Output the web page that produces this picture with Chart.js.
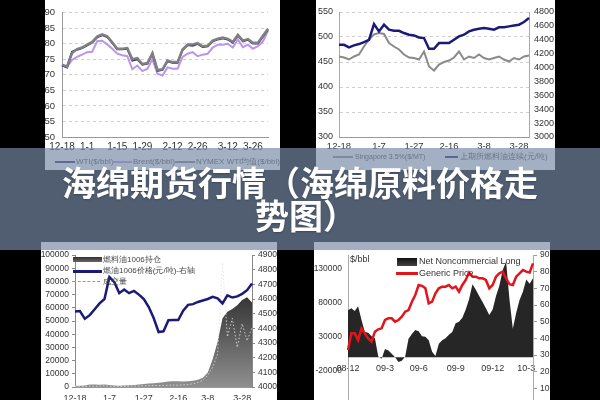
<!DOCTYPE html>
<html>
<head>
<meta charset="utf-8">
<script src="https://cdn.jsdelivr.net/npm/chart.js@4.4.1/dist/chart.umd.min.js"></script>
<style>
  html, body { margin: 0; padding: 0; width: 600px; height: 400px; overflow: hidden; background: #000; }
  body { position: relative; font-family: "Liberation Sans", Arial, sans-serif; }
  .panel { position: absolute; background: #fff; overflow: hidden; }
  .panel canvas { position: absolute; left: 0; top: 0; }
  .lg { position: absolute; white-space: nowrap; color: #444; line-height: 1; }
  .mk { position: absolute; }
  #banner { position: absolute; left: 0; top: 148px; width: 600px; height: 102px; background: rgba(120, 138, 168, 0.68); }
  #title { position: absolute; left: 50px; top: 165px; width: 500px; text-align: center; color: #fff;
           font: bold 34px/33px "Noto Sans CJK SC", sans-serif; text-shadow: 0 1px 2px rgba(0,0,0,0.25); }
  #title span { position: relative; left: 6px; }
</style>
</head>
<body>

<div class="panel" style="left:45px;top:0;width:235px;height:170px">
  <canvas id="c1" width="235" height="170"></canvas>
  <div class="mk" style="left:10px;top:161px;width:20px;height:2px;background:#2a2570"></div>
  <div class="lg" style="left:31px;top:158px;font-size:8px">WTI($/bbl)</div>
  <div class="mk" style="left:67px;top:161px;width:20px;height:2px;background:#b995ee"></div>
  <div class="lg" style="left:88px;top:158px;font-size:8px">Brent($/bbl)</div>
  <div class="mk" style="left:130px;top:161px;width:20px;height:2px;background:#808080"></div>
  <div class="lg" style="left:151px;top:158px;font-size:8px">NYMEX WTI均值($/bbl)</div>
</div>

<div class="panel" style="left:316px;top:0;width:239px;height:170px">
  <canvas id="c2" width="239" height="170"></canvas>
  <div class="mk" style="left:17px;top:156px;width:20px;height:2px;background:#8a8a8a"></div>
  <div class="lg" style="left:39px;top:153px;font-size:7px">Singapore 3.5%($/MT)</div>
  <div class="mk" style="left:129px;top:156px;width:13px;height:2px;background:#1c1a78"></div>
  <div class="lg" style="left:144px;top:153px;font-size:8px">上期所燃料油连续(元/吨)</div>
</div>

<div class="panel" style="left:41px;top:242px;width:236px;height:175px">
  <canvas id="c3" width="236" height="175"></canvas>
  <div class="mk" style="left:32px;top:15px;width:29px;height:5px;background:linear-gradient(#333,#666)"></div>
  <div class="lg" style="left:62px;top:14px;font-size:8px">燃料油1006持仓</div>
  <div class="mk" style="left:32px;top:28px;width:29px;height:2.5px;background:#1c1a78"></div>
  <div class="lg" style="left:62px;top:25px;font-size:8px">燃油1006价格(元/吨)-右轴</div>
  <div class="mk" style="left:32px;top:39px;width:27px;border-top:1.5px dashed #999"></div>
  <div class="lg" style="left:62px;top:36px;font-size:8px">成交量</div>
</div>

<div class="panel" style="left:314px;top:242px;width:236px;height:175px">
  <canvas id="c4" width="236" height="175"></canvas>
  <div class="lg" style="left:36px;top:13px;font-size:9px;color:#333">$/bbl</div>
  <div class="mk" style="left:83px;top:16px;width:20px;height:8px;background:linear-gradient(#111,#444)"></div>
  <div class="lg" style="left:105px;top:15px;font-size:9px;color:#333">Net Noncommercial Long</div>
  <div class="mk" style="left:82px;top:30px;width:22px;height:2.5px;background:#e3141a"></div>
  <div class="lg" style="left:105px;top:27px;font-size:9px;color:#333">Generic Price</div>
</div>

<div id="banner"></div>
<div id="title">海绵期货行情（海绵原料价格走<br><span>势图）</span></div>

<script>
// chart 1: crude oil, daily, 12-18 .. 3-31
const c1Ticks = { 0: "12-18", 5: "1-1", 11: "1-15", 16: "1-29", 22: "2-12", 27: "2-26", 33: "3-12", 38: "3-26" };
const wti   = [73.1, 72.4, 77.4, 78.1, 78.6, 79.5, 80.4, 82.1, 82.8, 82.2, 80.3, 78.2, 78.2, 78.4, 74.6, 75.0, 73.3, 73.6, 76.8, 71.3, 71.6,
               74.4, 73.9, 73.9, 78.0, 79.6, 79.4, 80.0, 79.0, 79.2, 80.8, 81.4, 81.8, 81.4, 80.4, 82.7, 80.8, 81.3, 80.1, 80.1, 82.4, 84.6];
const brent = [73.1, 72.5, 74.8, 75.8, 76.5, 77.3, 77.4, 80.8, 81.0, 79.8, 78.4, 76.8, 76.3, 76.0, 71.8, 73.0, 71.2, 72.0, 75.0, 70.4, 69.8,
               72.4, 72.0, 72.0, 75.8, 76.8, 77.3, 76.0, 76.5, 76.8, 78.8, 79.7, 79.7, 80.0, 78.8, 81.4, 78.9, 79.7, 78.4, 79.2, 80.8, 84.2];
const nymex = [73.3, 72.6, 77.0, 78.3, 78.8, 79.7, 80.6, 82.3, 83.0, 82.4, 80.5, 78.4, 78.4, 78.6, 75.0, 75.4, 73.5, 73.8, 77.0, 71.6, 71.8,
               74.6, 74.1, 74.1, 78.2, 79.8, 79.8, 80.2, 79.2, 79.4, 81.0, 81.6, 82.0, 81.6, 80.6, 82.9, 81.0, 81.5, 80.3, 80.3, 82.6, 84.8];

// chart 2: fuel oil, Singapore vs SHFE
const c2Ticks = { 0: "12-18", 8: "1-7", 15: "1-27", 22: "2-16", 29: "3-8", 36: "3-28" };
const singapore = [461, 459, 455, 461, 465, 481, 495, 505, 508, 506, 488, 481, 475, 465, 459, 458, 455, 471, 441, 433,
                   445, 450, 453, 459, 471, 455, 461, 458, 465, 458, 455, 458, 461, 455, 451, 458, 455, 461, 463];
const shfeFuel  = [4328, 4328, 4290, 4319, 4338, 4367, 4400, 4627, 4521, 4617, 4545, 4530, 4530, 4497, 4473, 4463, 4434, 4425, 4271, 4271,
                   4352, 4352, 4352, 4400, 4449, 4473, 4521, 4545, 4559, 4569, 4559, 4545, 4579, 4579, 4593, 4607, 4617, 4656, 4713];

// chart 3: fuel oil 1006 contract
const c3Ticks = { 0: "12-18", 7: "1-7", 14: "1-27", 21: "2-16", 27: "3-8", 34: "3-28" };
const openInterest = [800, 1000, 1200, 1800, 1900, 1700, 1800, 1500, 1200, 1000, 1100, 1300, 1500, 1800, 2200, 2600, 2800, 3200, 3600,
                      4200, 4400, 4300, 4200, 4300, 4800, 5500, 7000, 11000, 21000, 34000, 52000, 57000, 59000, 62000, 66000, 68000, 64000];
const price1006    = [4514, 4518, 4465, 4490, 4530, 4570, 4600, 4750, 4715, 4640, 4665, 4640, 4655, 4630, 4600, 4545, 4470, 4375, 4380,
                      4455, 4457, 4457, 4520, 4560, 4565, 4580, 4590, 4600, 4615, 4605, 4570, 4625, 4610, 4618, 4635, 4660, 4705];
const volume       = [300, 500, 400, 800, 600, 700, 900, 600, 500, 400, 500, 600, 700, 800, 900, 1000, 1200, 1000, 1100,
                      1300, 1500, 1400, 1600, 1800, 2500, 3500, 5000, 9000, 15000, 25000, 94000, 38000, 52000, 30000, 48000, 35000, 45000];

// chart 4: CFTC net noncommercial long vs price, weekly 08-12 .. 10-3
const c4Ticks = { 0: "08-12", 11: "09-3", 21: "09-6", 32: "09-9", 43: "09-12", 53: "10-3" };
const c4LeftTicks = [-20000, 30000, 80000, 130000];
const netLong = [69000, 72000, 68000, 75000, 55000, 37000, 36000, 31000, 28000, 1000, -2000, 12000, 10000, 5000, 0, -7000, -5000, 1000,
                 27000, 34000, 40000, 38000, 31000, 30000, 25000, 8000, 2000, 20000, 25000, 28000, 33000, 37000, 50000, 52000, 58000,
                 70000, 85000, 107000, 99000, 90000, 81000, 72000, 62000, 70000, 90000, 105000, 128000, 140000, 85000, 42000, 65000,
                 84000, 96000, 114000, 108000, 116000];
const genericPrice = [33, 43, 43, 39, 46, 43, 40, 38, 44, 45.4, 46, 51, 52, 52, 50, 51, 53, 56, 57, 62, 66, 72, 71.5, 70, 61, 62, 67, 70,
                      71, 71, 72, 70, 71, 68, 72, 75, 79.5, 77, 77, 76, 76, 75, 70, 72, 77, 79, 80, 76, 72.5, 72, 77, 79, 81, 80, 79.5, 85];

Chart.defaults.font.family = '"Liberation Sans", Arial, sans-serif';
Chart.defaults.font.size = 10;
Chart.defaults.color = "#333";

const tickText = map => (v, i) => map[i] ?? "";
const plainNum = v => String(v);
const indexLabels = arr => arr.map((_, i) => i);

function chartOpts(padding, scales) {
  return {
    responsive: false,
    animation: false,
    devicePixelRatio: 1,
    layout: { padding },
    plugins: { legend: { display: false }, tooltip: { enabled: false } },
    elements: { point: { radius: 0 }, line: { tension: 0 } },
    scales,
  };
}

function catAxis(ticks, padding, height, size) {
  return {
    grid: { display: false, drawTicks: false },
    border: { color: "#999" },
    ticks: { autoSkip: false, maxRotation: 0, padding, font: { size }, callback: tickText(ticks) },
    afterFit: s => { s.height = height; },
  };
}

function valAxis(extra, width) {
  return Object.assign({ afterFit: s => { s.width = width; } }, extra, {
    ticks: Object.assign({ autoSkip: false, callback: plainNum }, extra.ticks),
  });
}

new Chart(document.getElementById("c1"), {
  type: "line",
  data: {
    labels: indexLabels(nymex),
    datasets: [
      { label: "WTI($/bbl)", data: wti, borderColor: "#2a2570", borderWidth: 2, order: 1 },
      { label: "Brent($/bbl)", data: brent, borderColor: "#b995ee", borderWidth: 2, order: 2 },
      { label: "NYMEX WTI均值($/bbl)", data: nymex, borderColor: "#808080", borderWidth: 2.5, order: 0 },
    ],
  },
  options: chartOpts({ top: 12, right: 12, left: 0, bottom: 0 }, {
    x: catAxis(c1Ticks, 4, 33, 10),
    y: valAxis({
      min: 50, max: 90,
      ticks: { stepSize: 5, padding: 7, font: { size: 9.5 } },
      grid: { color: "#cfcfcf", drawTicks: false },
      border: { color: "#999", dash: [3, 3] },
    }, 17),
  }),
});

new Chart(document.getElementById("c2"), {
  type: "line",
  data: {
    labels: indexLabels(singapore),
    datasets: [
      { label: "Singapore 3.5%($/MT)", data: singapore, borderColor: "#8a8a8a", borderWidth: 2, yAxisID: "y", order: 1 },
      { label: "上期所燃料油连续(元/吨)", data: shfeFuel, borderColor: "#1c1a78", borderWidth: 2.5, yAxisID: "y2", order: 0 },
    ],
  },
  options: chartOpts({ top: 12, right: 0, left: 0, bottom: 0 }, {
    x: catAxis(c2Ticks, 4, 33, 9.5),
    y: valAxis({
      position: "left", min: 300, max: 550,
      ticks: { stepSize: 50, padding: 6, font: { size: 9 } },
      grid: { color: "#cfcfcf", drawTicks: false },
      border: { color: "#aaa", dash: [3, 3] },
    }, 23),
    y2: valAxis({
      position: "right", min: 3000, max: 4800,
      ticks: { stepSize: 200, padding: 5, font: { size: 9 } },
      grid: { display: false, drawTicks: false },
      border: { color: "#aaa" },
    }, 26),
  }),
});

new Chart(document.getElementById("c3"), {
  type: "line",
  data: {
    labels: indexLabels(openInterest),
    datasets: [
      {
        label: "燃料油1006持仓", data: openInterest, yAxisID: "y", order: 2,
        fill: "origin", borderWidth: 0,
        backgroundColor: c => {
          const a = c.chart.chartArea;
          if (!a) return "#444";
          const g = c.chart.ctx.createLinearGradient(0, a.top, 0, a.bottom);
          g.addColorStop(0, "#0c0c0c");
          g.addColorStop(1, "#8f8f8f");
          return g;
        },
      },
      { label: "燃油1006价格(元/吨)-右轴", data: price1006, yAxisID: "y2", borderColor: "#1c1a78", borderWidth: 2.5, order: 0 },
      { label: "成交量", data: volume, yAxisID: "y", borderColor: "rgba(225,225,225,0.85)", borderWidth: 1, borderDash: [1.5, 2], order: 1 },
    ],
  },
  options: chartOpts({ top: 13, right: 0, left: 0, bottom: 0 }, {
    x: catAxis(c3Ticks, 6, 30, 9),
    y: valAxis({
      min: 0, max: 100000,
      ticks: { stepSize: 10000, padding: 3, font: { size: 8.5 } },
      grid: { drawOnChartArea: false, tickLength: 3, color: "#888" },
      border: { color: "#888" },
    }, 34),
    y2: valAxis({
      position: "right", min: 4000, max: 4900,
      ticks: { stepSize: 100, padding: 3, font: { size: 8.5 } },
      grid: { drawOnChartArea: false, tickLength: 3, color: "#888" },
      border: { color: "#888" },
    }, 25),
  }),
});

new Chart(document.getElementById("c4"), {
  type: "line",
  data: {
    labels: indexLabels(netLong),
    datasets: [
      { label: "Net Noncommercial Long", data: netLong, yAxisID: "y", fill: "origin", borderWidth: 0, backgroundColor: "#262626", order: 1 },
      { label: "Generic Price", data: genericPrice, yAxisID: "y2", borderColor: "#e3141a", borderWidth: 2.5, order: 0 },
    ],
  },
  options: chartOpts({ top: 13, right: 0, left: 0, bottom: 12 }, {
    x: {
      position: { y: 0 },
      grid: { display: false, drawTicks: false },
      border: { display: false },
      ticks: { autoSkip: false, maxRotation: 0, padding: 6, font: { size: 9 }, callback: tickText(c4Ticks) },
    },
    y: valAxis({
      min: -70000, max: 150000,
      afterBuildTicks: s => { s.ticks = c4LeftTicks.map(v => ({ value: v })); },
      ticks: { padding: 6, font: { size: 8.5 } },
      grid: { display: false, drawTicks: false },
      border: { color: "#aaa" },
    }, 34),
    y2: valAxis({
      position: "right", min: 0, max: 90,
      ticks: { stepSize: 10, padding: 3, font: { size: 8.5 } },
      grid: { drawOnChartArea: false, tickLength: 4, color: "#999" },
      border: { color: "#aaa" },
    }, 17),
  }),
});
</script>
</body>
</html>
